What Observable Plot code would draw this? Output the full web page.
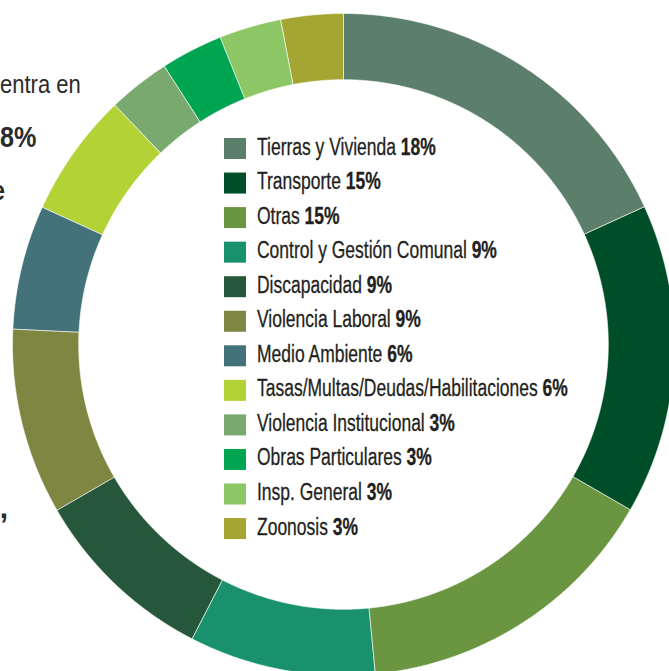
<!DOCTYPE html>
<html>
<head>
<meta charset="utf-8">
<script src="https://cdn.jsdelivr.net/npm/d3@7"></script>
<script src="https://cdn.jsdelivr.net/npm/@observablehq/plot@0.6"></script>
<style>
  html, body { margin: 0; padding: 0; background: #fff; overflow: hidden; }
  #wrap { position: relative; width: 669px; height: 671px; overflow: hidden; }
  #wrap svg { position: absolute; left: 0; top: 0; }
</style>
</head>
<body>
<div id="wrap"></div>
<script>
// ---- data ----
const categories = [
  "Tierras y Vivienda", "Transporte", "Otras", "Control y Gestión Comunal",
  "Discapacidad", "Violencia Laboral", "Medio Ambiente",
  "Tasas/Multas/Deudas/Habilitaciones", "Violencia Institucional",
  "Obras Particulares", "Insp. General", "Zoonosis"
];
const values = [18, 15, 15, 9, 9, 9, 6, 6, 3, 3, 3, 3];
const colors = [
  "#5b7f6a", "#004e27", "#6a9541", "#18916c", "#26573a", "#7e8641",
  "#44727a", "#b2d235", "#7aa96f", "#00a551", "#8cc665", "#a5a534"
];
const pctLabels = values.map(v => v + "%");

// ---- layout ----
const W = 669, H = 671;
const CX = 343, CY = 344, R = 331;   // pixel center / outer radius
const INNER = 0.8;                    // inner radius ratio

// build ring slice polygons in unit data space (y up)
const total = d3.sum(values);
const pts = [];
let cum = 0;
values.forEach((v, i) => {
  const a0 = cum / total * 2 * Math.PI;
  const a1 = (cum + v) / total * 2 * Math.PI;
  cum += v;
  const n = Math.max(8, Math.round(v * 12));
  for (let k = 0; k <= n; k++) {
    const a = a0 + (a1 - a0) * k / n;
    pts.push({cat: categories[i], x: Math.sin(a), y: Math.cos(a)});
  }
  for (let k = n; k >= 0; k--) {
    const a = a0 + (a1 - a0) * k / n;
    pts.push({cat: categories[i], x: INNER * Math.sin(a), y: INNER * Math.cos(a)});
  }
});

const chart = Plot.plot({
  width: W, height: H,
  margin: 0,
  x: {domain: [-CX / R, (W - CX) / R], axis: null},
  y: {domain: [(CY - H) / R, CY / R], axis: null},
  color: {domain: categories, range: colors},
  marks: [
    Plot.line(pts, {
      x: "x", y: "y", z: "cat",
      fill: "cat", stroke: "white", strokeWidth: 0.6,
      curve: "linear-closed"
    })
  ]
});
document.getElementById("wrap").appendChild(chart);

// ---- overlay text: legend + cropped article text ----
const ov = d3.select("#wrap").append("svg")
  .attr("width", W).attr("height", H)
  .style("font-family", "'Liberation Sans Narrow', 'Liberation Sans', Arial, sans-serif");

const legTop = 138, step = 34.55;
const rows = ov.selectAll("g.row").data(categories).join("g").attr("class", "row");
rows.append("rect")
  .attr("x", 224).attr("y", (d, i) => legTop + i * step)
  .attr("width", 22).attr("height", 21)
  .attr("fill", (d, i) => colors[i]);
const texts = rows.append("text")
  .attr("font-size", 24)
  .attr("fill", "#231f20")
  .attr("stroke", "#231f20")
  .attr("stroke-width", 0.3);
texts.append("tspan").text(d => d + " ");
texts.append("tspan").attr("font-weight", "bold").text((d, i) => pctLabels[i]);

// condense the legend to match the narrow typeface width
const longest = texts.nodes()[7].getComputedTextLength();
const kx = 311 / longest;
texts.attr("transform", (d, i) => `translate(257,${legTop + 16.5 + i * step}) scale(${kx},1)`);

// visible fragments of neighbouring article text (left edge)
const frag = [
  {t: "entra en", x: 0, y: 93, size: 25, w: "normal", k: 0.88, a: "start"},
  {t: "8%", x: 0, y: 147, size: 30, w: "bold", k: 0.84, a: "start"},
  {t: "e", x: 5, y: 200, size: 28, w: "bold", k: 0.85, a: "end"},
  {t: ",", x: 8, y: 518, size: 30, w: "bold", k: 1, a: "end"}
];
ov.selectAll("text.frag").data(frag).join("text")
  .attr("class", "frag")
  .attr("text-anchor", d => d.a)
  .attr("font-family", "'Liberation Sans', Arial, sans-serif")
  .attr("font-size", d => d.size)
  .attr("font-weight", d => d.w)
  .attr("fill", "#2b2b2b")
  .attr("transform", d => `translate(${d.x},${d.y}) scale(${d.k},1)`)
  .text(d => d.t);
</script>
</body>
</html>
